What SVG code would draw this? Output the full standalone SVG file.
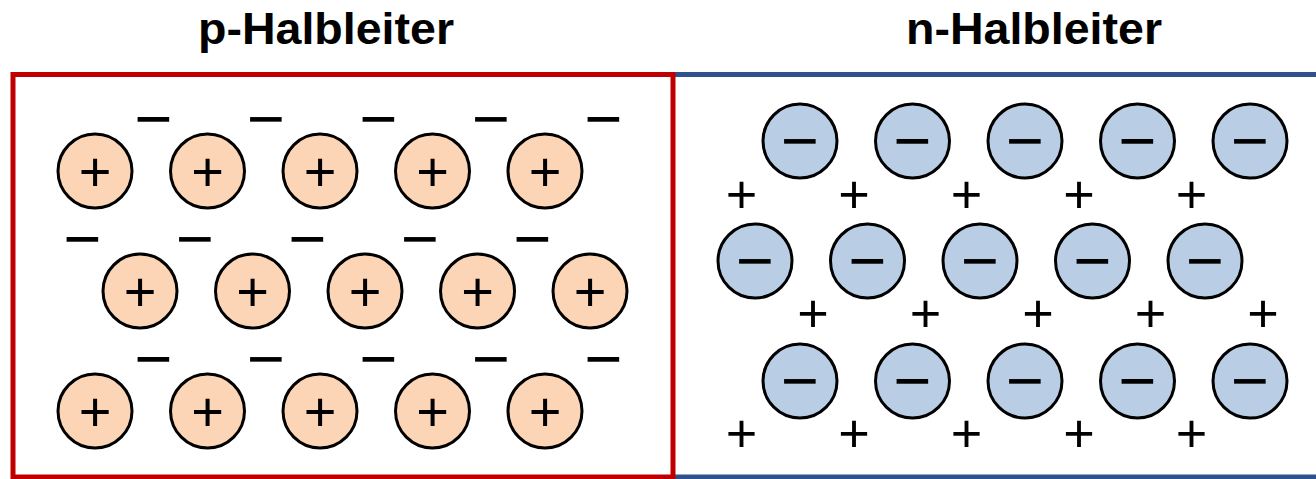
<svg xmlns="http://www.w3.org/2000/svg" xmlns:xlink="http://www.w3.org/1999/xlink" width="1316" height="479" viewBox="0 0 1316 479">
<style>
.title{font-family:"Liberation Sans",Arial,sans-serif;font-weight:bold;font-size:44px;text-anchor:middle;fill:#000}
.pa{fill:#FBD5B5;stroke:#000;stroke-width:3}
.na{fill:#B9CDE5;stroke:#000;stroke-width:3}
.pl{font-family:"Liberation Sans",Arial,sans-serif;font-size:56px;text-anchor:middle;fill:#000}
.mi{font-family:"Liberation Sans",Arial,sans-serif;font-size:65px;text-anchor:middle;fill:#000}
.fp{font-family:"Liberation Sans",Arial,sans-serif;font-size:54px;text-anchor:middle;fill:#000}
</style>
<rect width="1316" height="479" fill="#fff"/>
<text class="title" x="326" y="44" textLength="256" lengthAdjust="spacingAndGlyphs">p-Halbleiter</text>
<text class="title" x="1034" y="44" textLength="256" lengthAdjust="spacingAndGlyphs">n-Halbleiter</text>
<g id="n-region-border">
<path d="M673 74.5H1320M673 477H1320" fill="none" stroke="#2F528F" stroke-width="5"/>
</g>
<g id="p-region-border">
<rect x="13" y="74.5" width="660" height="402.5" fill="none" stroke="#C00000" stroke-width="5"/>
</g>
<g id="p-region">
<g id="p-ions">
<g id="p1"><circle class="pa" cx="95" cy="171" r="37"/><text class="pl" x="95" y="191">+</text></g>
<g id="p2"><circle class="pa" cx="207.5" cy="171" r="37"/><text class="pl" x="207.5" y="191">+</text></g>
<g id="p3"><circle class="pa" cx="320" cy="171" r="37"/><text class="pl" x="320" y="191">+</text></g>
<g id="p4"><circle class="pa" cx="432.5" cy="171" r="37"/><text class="pl" x="432.5" y="191">+</text></g>
<g id="p5"><circle class="pa" cx="545" cy="171" r="37"/><text class="pl" x="545" y="191">+</text></g>
<g id="p6"><circle class="pa" cx="140" cy="291" r="37"/><text class="pl" x="140" y="311">+</text></g>
<g id="p7"><circle class="pa" cx="252.5" cy="291" r="37"/><text class="pl" x="252.5" y="311">+</text></g>
<g id="p8"><circle class="pa" cx="365" cy="291" r="37"/><text class="pl" x="365" y="311">+</text></g>
<g id="p9"><circle class="pa" cx="477.5" cy="291" r="37"/><text class="pl" x="477.5" y="311">+</text></g>
<g id="p10"><circle class="pa" cx="590" cy="291" r="37"/><text class="pl" x="590" y="311">+</text></g>
<g id="p11"><circle class="pa" cx="95" cy="411" r="37"/><text class="pl" x="95" y="431">+</text></g>
<g id="p12"><circle class="pa" cx="207.5" cy="411" r="37"/><text class="pl" x="207.5" y="431">+</text></g>
<g id="p13"><circle class="pa" cx="320" cy="411" r="37"/><text class="pl" x="320" y="431">+</text></g>
<g id="p14"><circle class="pa" cx="432.5" cy="411" r="37"/><text class="pl" x="432.5" y="431">+</text></g>
<g id="p15"><circle class="pa" cx="545" cy="411" r="37"/><text class="pl" x="545" y="431">+</text></g>
</g>
<g id="p-free-charges">
<text class="mi" x="153.5" y="141">−</text><text class="mi" x="266" y="141">−</text><text class="mi" x="378.5" y="141">−</text><text class="mi" x="491" y="141">−</text><text class="mi" x="603.5" y="141">−</text>
<text class="mi" x="82.5" y="261">−</text><text class="mi" x="195" y="261">−</text><text class="mi" x="307.5" y="261">−</text><text class="mi" x="420" y="261">−</text><text class="mi" x="532.5" y="261">−</text>
<text class="mi" x="153.5" y="381">−</text><text class="mi" x="266" y="381">−</text><text class="mi" x="378.5" y="381">−</text><text class="mi" x="491" y="381">−</text><text class="mi" x="603.5" y="381">−</text>
</g>
</g>
<g id="n-region">
<g id="n-ions">
<g id="n1"><circle class="na" cx="800" cy="141" r="37"/><text class="mi" x="800" y="163">−</text></g>
<g id="n2"><circle class="na" cx="912.5" cy="141" r="37"/><text class="mi" x="912.5" y="163">−</text></g>
<g id="n3"><circle class="na" cx="1025" cy="141" r="37"/><text class="mi" x="1025" y="163">−</text></g>
<g id="n4"><circle class="na" cx="1137.5" cy="141" r="37"/><text class="mi" x="1137.5" y="163">−</text></g>
<g id="n5"><circle class="na" cx="1250" cy="141" r="37"/><text class="mi" x="1250" y="163">−</text></g>
<g id="n6"><circle class="na" cx="755" cy="261" r="37"/><text class="mi" x="755" y="283">−</text></g>
<g id="n7"><circle class="na" cx="867.5" cy="261" r="37"/><text class="mi" x="867.5" y="283">−</text></g>
<g id="n8"><circle class="na" cx="980" cy="261" r="37"/><text class="mi" x="980" y="283">−</text></g>
<g id="n9"><circle class="na" cx="1092.5" cy="261" r="37"/><text class="mi" x="1092.5" y="283">−</text></g>
<g id="n10"><circle class="na" cx="1205" cy="261" r="37"/><text class="mi" x="1205" y="283">−</text></g>
<g id="n11"><circle class="na" cx="800" cy="381" r="37"/><text class="mi" x="800" y="403">−</text></g>
<g id="n12"><circle class="na" cx="912.5" cy="381" r="37"/><text class="mi" x="912.5" y="403">−</text></g>
<g id="n13"><circle class="na" cx="1025" cy="381" r="37"/><text class="mi" x="1025" y="403">−</text></g>
<g id="n14"><circle class="na" cx="1137.5" cy="381" r="37"/><text class="mi" x="1137.5" y="403">−</text></g>
<g id="n15"><circle class="na" cx="1250" cy="381" r="37"/><text class="mi" x="1250" y="403">−</text></g>
</g>
<g id="n-free-charges">
<text class="fp" x="741.5" y="213">+</text><text class="fp" x="854" y="213">+</text><text class="fp" x="966.5" y="213">+</text><text class="fp" x="1079" y="213">+</text><text class="fp" x="1191.5" y="213">+</text>
<text class="fp" x="813" y="332">+</text><text class="fp" x="925.5" y="332">+</text><text class="fp" x="1038" y="332">+</text><text class="fp" x="1150.5" y="332">+</text><text class="fp" x="1263" y="332">+</text>
<text class="fp" x="741.5" y="452">+</text><text class="fp" x="854" y="452">+</text><text class="fp" x="966.5" y="452">+</text><text class="fp" x="1079" y="452">+</text><text class="fp" x="1191.5" y="452">+</text>
</g>
</g>
</svg>
